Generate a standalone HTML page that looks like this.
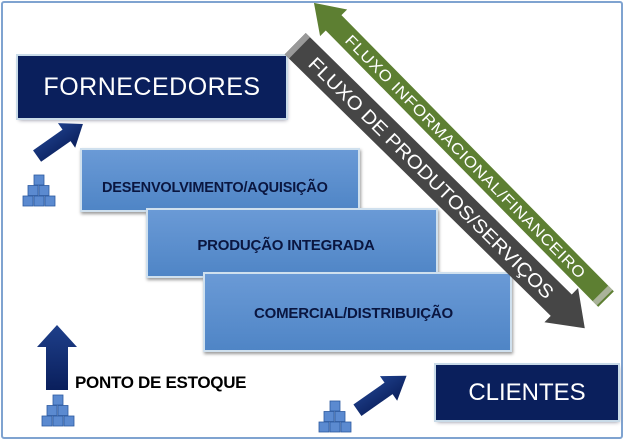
<!DOCTYPE html>
<html><head><meta charset="utf-8"><style>
body{margin:0;width:624px;height:439px;overflow:hidden;background:#fff;font-family:"Liberation Sans",sans-serif}
.frame{position:absolute;left:1px;top:1px;width:618px;height:434px;border:2px solid #7fa3d0;border-radius:3px}
.dark{position:absolute;background:#0a1f5c;color:#fff;display:flex;align-items:center;justify-content:center;box-shadow:0 0 0 2px #c9dbe8,1px 2px 4px #889;}
.step{position:absolute;background:linear-gradient(#6a9ad6,#4f85c6);border:2px solid #cfe0ee;box-shadow:1px 2px 3px #999;color:#0a1640;font-weight:bold;font-size:14.5px;display:flex;align-items:center;justify-content:center;letter-spacing:-0.2px}
svg{position:absolute;left:0;top:0}
</style></head><body>
<div class="frame"></div>
<div class="dark" style="left:18px;top:56px;width:268px;height:62px;font-size:25px;letter-spacing:0.5px">FORNECEDORES</div>
<div class="step" style="left:80px;top:148px;width:276px;height:60px;justify-content:flex-start"><span style="margin-left:20px;margin-top:16px">DESENVOLVIMENTO/AQUISIÇÃO</span></div>
<div class="step" style="left:146px;top:208px;width:288px;height:66px;font-size:15px"><span style="margin-right:12px;margin-top:4px">PRODUÇÃO INTEGRADA</span></div>
<div class="step" style="left:203px;top:272px;width:305px;height:76px;font-size:15px"><span style="margin-top:2px;margin-right:8px">COMERCIAL/DISTRIBUIÇÃO</span></div>
<div class="dark" style="left:436px;top:365px;width:182px;height:55px;font-size:24px">CLIENTES</div>
<div style="position:absolute;left:75px;top:373px;font-weight:bold;font-size:17px;color:#000;letter-spacing:-0.3px">PONTO DE ESTOQUE</div>
<svg width="624" height="439">
<defs>
<g id="cubes">
<rect x="11" y="0" width="10" height="10" fill="#5b8ad0" stroke="#2d5aa0" stroke-width="0.8"/>
<rect x="5" y="10.5" width="10" height="10" fill="#5b8ad0" stroke="#2d5aa0" stroke-width="0.8"/>
<rect x="16" y="10.5" width="10" height="10" fill="#5b8ad0" stroke="#2d5aa0" stroke-width="0.8"/>
<rect x="0" y="21" width="10" height="10" fill="#5b8ad0" stroke="#2d5aa0" stroke-width="0.8"/>
<rect x="11" y="21" width="10" height="10" fill="#5b8ad0" stroke="#2d5aa0" stroke-width="0.8"/>
<rect x="22" y="21" width="10" height="10" fill="#5b8ad0" stroke="#2d5aa0" stroke-width="0.8"/>
</g>
<linearGradient id="ab" x1="0" y1="0" x2="0" y2="1"><stop offset="0" stop-color="#1e3f8a"/><stop offset="1" stop-color="#0a1f5c"/></linearGradient>
</defs>
<use href="#cubes" x="23" y="175"/>
<use href="#cubes" x="42" y="395"/>
<use href="#cubes" x="319" y="401"/>
<g transform="translate(60,140) rotate(-35)"><polygon points="-28,-7 8,-7 8,-15 28,0 8,15 8,7 -28,7" fill="url(#ab)"/></g>
<g transform="translate(382,393) rotate(-35)"><polygon points="-30,-7 8,-7 8,-15 30,0 8,15 8,7 -30,7" fill="url(#ab)"/></g>
<polygon points="46,390 46,347 37,347 57,325 77,347 68,347 68,390" fill="url(#ab)"/>
<g transform="translate(460,151) rotate(45.4)">
<polygon points="-208,0 -180,-19 -180,-11 208,-11 208,11 -180,11 -180,19" fill="#5d7f32"/>
<rect x="200" y="-11" width="6" height="22" fill="#aab39a"/>
<text x="8" y="5.5" text-anchor="middle" font-size="15.5" fill="#fff" font-family="Liberation Sans,sans-serif" letter-spacing="0.6" textLength="335" lengthAdjust="spacingAndGlyphs">FLUXO INFORMACIONAL/FINANCEIRO</text>
</g>
<g transform="translate(440,186) rotate(44.5)">
<polygon points="-203,-15 170,-15 170,-24 203,0 170,24 170,15 -203,15" fill="#464646"/>
<rect x="-203" y="-15" width="6" height="30" fill="#999"/>
<text x="-12" y="7" text-anchor="middle" font-size="19" fill="#fff" font-family="Liberation Sans,sans-serif" textLength="335" lengthAdjust="spacingAndGlyphs">FLUXO DE PRODUTOS/SERVIÇOS</text>
</g>
</svg>
</body></html>
